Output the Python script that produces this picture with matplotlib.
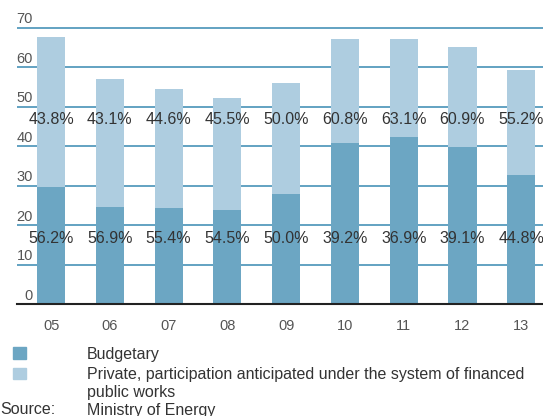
import matplotlib
matplotlib.use("Agg")
import matplotlib.pyplot as plt
from matplotlib.patches import Rectangle
from matplotlib.transforms import blended_transform_factory, offset_copy

plt.rcParams['font.family'] = ['Liberation Sans', 'DejaVu Sans']

years = ["05", "06", "07", "08", "09", "10", "11", "12", "13"]
budgetary = [29.7, 24.6, 24.3, 23.8, 27.9, 40.8, 42.4, 39.8, 32.7]
private = [38.0, 32.5, 30.2, 28.4, 28.1, 26.4, 24.8, 25.4, 26.6]
pct_upper = ["43.8%", "43.1%", "44.6%", "45.5%", "50.0%", "60.8%", "63.1%", "60.9%", "55.2%"]
pct_lower = ["56.2%", "56.9%", "55.4%", "54.5%", "50.0%", "39.2%", "36.9%", "39.1%", "44.8%"]
y_ticks = [0, 10, 20, 30, 40, 50, 60, 70]

c_budget = "#6ca6c3"
c_private = "#aecde0"
c_grid = "#62a2c2"
c_text = "#333333"
c_tick = "#555555"

fig = plt.figure(figsize=(5.43, 4.16), dpi=100)
ax = fig.add_axes([17 / 543, 112 / 416, 1 - 17 / 543, (304 - 20.1) / 416])

x = list(range(len(years)))
ax.bar(x, budgetary, width=0.477, color=c_budget, zorder=2)
ax.bar(x, private, width=0.477, bottom=budgetary, color=c_private, zorder=2)

ax.set_xlim(-0.58, 8.37)
ax.set_ylim(0, 72)

for v in y_ticks[1:]:
    ax.axhline(v, color=c_grid, lw=1.4, zorder=1)

for s in ["top", "right", "left"]:
    ax.spines[s].set_visible(False)
ax.spines["bottom"].set_color("#222222")
ax.spines["bottom"].set_linewidth(1.5)
ax.spines["bottom"].set_zorder(3)

ax.set_yticks([])
ax.set_xticks(x)
ax.set_xticklabels(years, fontsize=10.5, color=c_tick)
ax.tick_params(axis="x", length=0, pad=11)

# y values written above their gridlines, right aligned
trans = blended_transform_factory(ax.transAxes, ax.transData)
trans = offset_copy(trans, fig=fig, x=16, y=8.5, units="dots")
for v in y_ticks:
    ax.text(0, v, str(v), transform=trans, ha="right", va="center",
            fontsize=10.5, color=c_tick)

for xi, up, lo in zip(x, pct_upper, pct_lower):
    ax.text(xi, 46.9, up, ha="center", va="center", fontsize=11.5, color=c_text, zorder=4)
    ax.text(xi, 16.5, lo, ha="center", va="center", fontsize=11.5, color=c_text, zorder=4)

# legend and source
H = 416
fig.patches.append(Rectangle((13 / 543, 1 - 359 / H), 13 / 543, 12 / H,
                             transform=fig.transFigure, color=c_budget))
fig.patches.append(Rectangle((13 / 543, 1 - 379 / H), 13 / 543, 11 / H,
                             transform=fig.transFigure, color=c_private))
fs = 11.5
fig.text(87 / 543, 1 - 354 / H, "Budgetary", fontsize=fs, color=c_text, va="center")
fig.text(87 / 543, 1 - 374 / H, "Private, participation anticipated under the system of financed",
         fontsize=fs, color=c_text, va="center")
fig.text(87 / 543, 1 - 392 / H, "public works", fontsize=fs, color=c_text, va="center")
fig.text(0, 1 - 410 / H, "Source:", fontsize=fs, color=c_text, va="center")
fig.text(87 / 543, 1 - 410 / H, "Ministry of Energy", fontsize=fs, color=c_text, va="center")

fig.savefig("out.png", dpi=100)
